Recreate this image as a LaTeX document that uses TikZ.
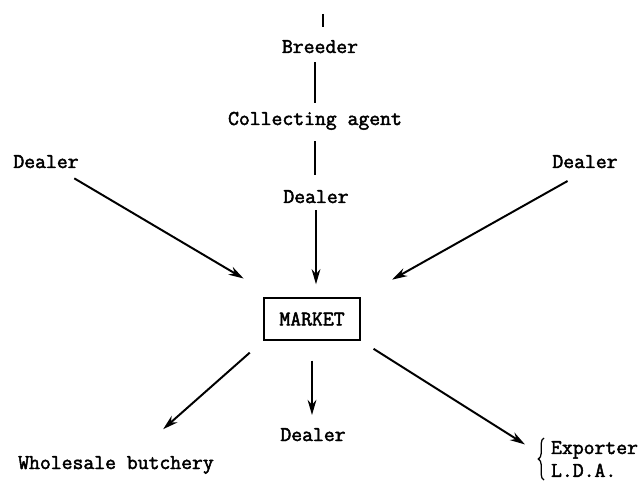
\documentclass[tikz,border=0pt]{standalone}
\usepackage{fontspec}
\setmonofont{Latin Modern Mono}[AutoFakeBold=2.2]
\usetikzlibrary{arrows.meta}
\usetikzlibrary{calc}
\usetikzlibrary{decorations.pathreplacing}

\begin{document}
\begin{tikzpicture}[x=0.025cm, y=-0.025cm,
    lbl/.style={font=\ttfamily\bfseries\fontsize{15}{16.3}\selectfont, inner sep=2pt},
    flow/.style={line width=1.4pt, -{Stealth[length=3.8mm, width=2.2mm]}},
    link/.style={line width=2pt}]
  \useasboundingbox (0,0) rectangle (638,485);

  % chain down the middle
  \coordinate (stub) at (323,14);
  \node[lbl, anchor=base] (breeder) at (320,53) {Breeder};
  \node[lbl, anchor=base] (agent) at (315,125) {Collecting agent};
  \node[lbl, anchor=base] (dealertop) at (316,203) {Dealer};
  \node[lbl, draw, line width=1pt, minimum width=24mm, minimum height=10.5mm] (market) at (312,319) {MARKET};

  % side dealers
  \node[lbl, anchor=base] (dealerleft) at (46,168) {Dealer};
  \node[lbl, anchor=base] (dealerright) at (585,168) {Dealer};

  % outlets
  \node[lbl, anchor=base] (dealerbottom) at (313,441) {Dealer};
  \node[lbl, anchor=base] (butchery) at (116,469) {Wholesale butchery};
  \node[lbl, anchor=west, align=left] (exporter) at (548,459) {Exporter\\L.D.A.};
  \draw[line width=0.9pt, decorate, decoration={brace, amplitude=4pt}]
    ([xshift=-1mm]exporter.south west) -- ([xshift=-1mm]exporter.north west);

  \draw[line width=1pt, shorten >=2.5mm] (stub) -- (stub |- breeder.north);
  \draw[link, shorten <=1.5mm, shorten >=1.4mm] (agent.north) -- (agent.north |- breeder.south);
  \draw[link, shorten <=2.1mm, shorten >=3mm] (agent.south) -- (agent.south |- dealertop.north);
  \draw[flow, shorten <=1mm, shorten >=3.25mm] (dealertop.south) -- (dealertop.south |- market.north);

  \draw[flow, shorten <=3.5mm, shorten >=9.2mm] (dealerleft) -- (market);
  \draw[flow, shorten <=5mm, shorten >=9mm] (dealerright.south) -- (market.north east);

  \draw[flow, shorten <=5mm, shorten >=2.5mm] (market.south) -- (market.south |- dealerbottom.north);
  \draw[flow, shorten <=4.5mm, shorten >=9mm] (market.south west) -- ($(butchery.north)!0.2!(butchery.north east)$);
  \draw[flow, shorten <=3.8mm, shorten >=6.8mm] (market.south east) -- (exporter.west);
\end{tikzpicture}
\end{document}
